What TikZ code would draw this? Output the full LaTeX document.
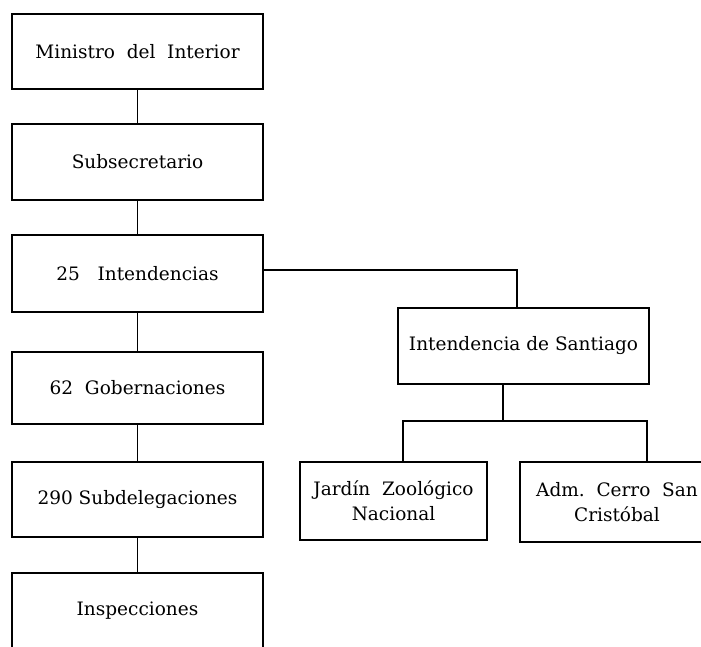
\documentclass[tikz,border=0pt]{standalone}
\usepackage{fontspec}
\setmainfont{DejaVu Serif}
\begin{document}
\begin{tikzpicture}[x=1pt,y=-1pt,
  main node/.style={rectangle,draw,line width=2.6pt,font=\fontsize{18.5}{25}\selectfont,minimum width=251pt,minimum height=75pt,inner sep=0pt,align=center},
  link/.style={line width=1.9pt}]
  \useasboundingbox (0,0) rectangle (701,647);

  \node[main node] (1) at (137.5,51.5) {Ministro\ \ del\ \ Interior};
  \node[main node,minimum height=76pt] (2) at (137.5,162) {Subsecretario};
  \node[main node,minimum height=77pt] (3) at (137.5,273.5) {25\ \ \ Intendencias};
  \node[main node,minimum height=72pt] (4) at (137.5,388) {62\ \ Gobernaciones};
  \node[main node] (5) at (137.5,499.5) {290\ Subdelegaciones};
  \node[main node,minimum height=76pt] (6) at (137.5,611) {Inspecciones};
  \node[main node,minimum height=76pt] (7) at (523.5,346) {Intendencia de Santiago};
 \node[main node,minimum width=187pt,minimum height=78pt] (8) at (393.5,501) {Jardín\ \ Zoológico\\Nacional};
  \node[main node,minimum width=194pt,minimum height=80pt] (9) at (617,502) {Adm.\ \ Cerro\ \ San\\Cristóbal};
  \coordinate (k) at (517,270);
  \coordinate (m) at (503,421);
  \coordinate (jl) at (403,421);
  \coordinate (jr) at (647,421);
  \path[link]
   (1) edge (2)
   (2) edge (3)
   (3) edge (4)
   (4) edge (5)
   (5) edge (6);
  \draw[link] (3.east |- k) -- (k) -- (k |- 7.north);
  \draw[link] (m |- 7.south) -- (m);
  \draw[link] (jl |- 8.north) -- (jl) -- (jr) -- (jr |- 9.north);
\end{tikzpicture}
\end{document}
